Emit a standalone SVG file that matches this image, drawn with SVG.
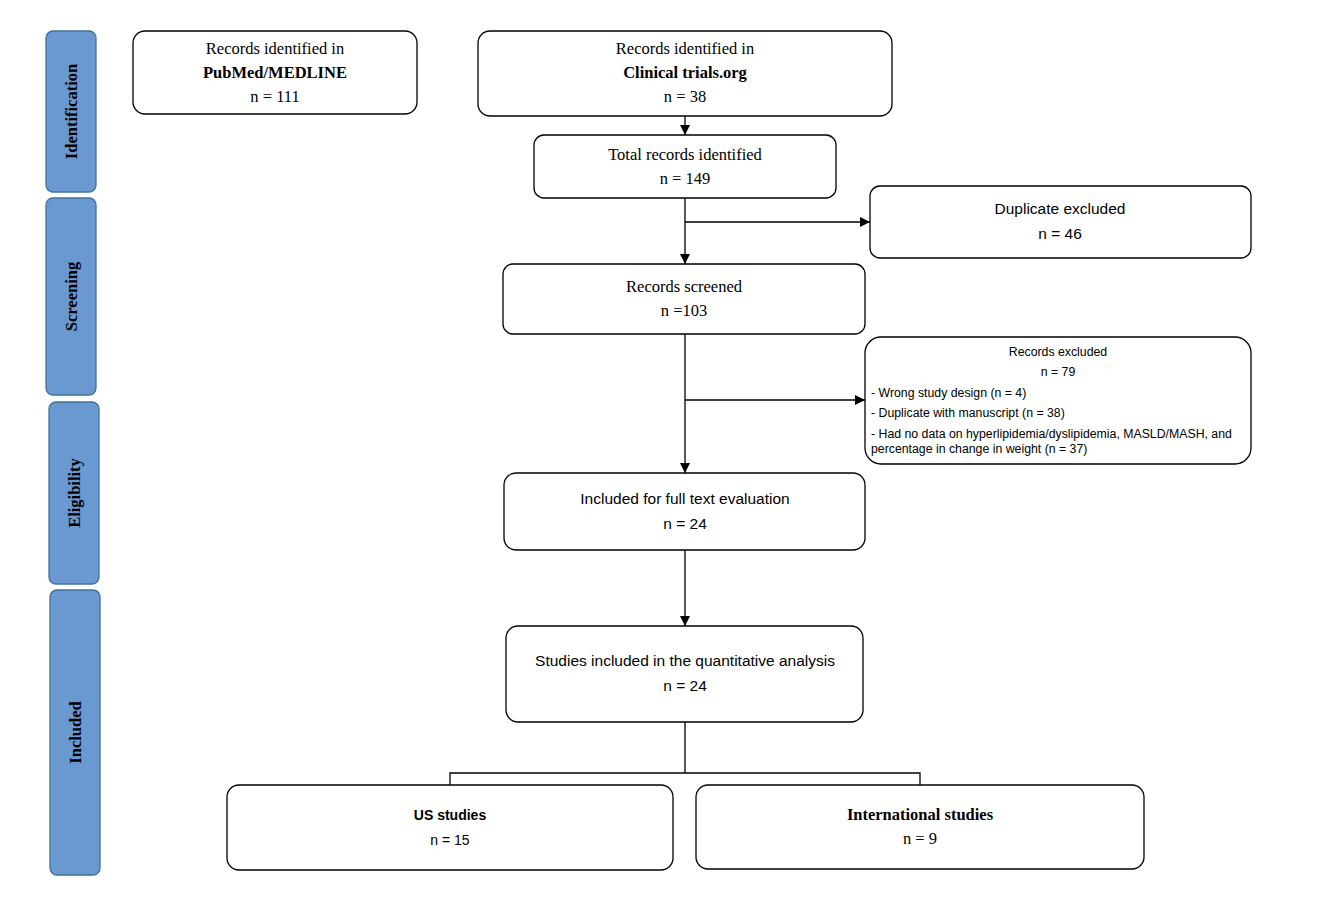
<svg xmlns="http://www.w3.org/2000/svg" width="1318" height="908" viewBox="0 0 1318 908">
<defs>
<marker id="ah" viewBox="0 0 10 10" refX="10" refY="5" markerWidth="10" markerHeight="10" markerUnits="userSpaceOnUse" orient="auto">
<path d="M0,0 L10,5 L0,10 z" fill="#000"/>
</marker>
<style>
.box{fill:#fff;stroke:#000;stroke-width:1.3}
.side{fill:#6A98D0;stroke:#41719C;stroke-width:1.3}
.serif{font-family:"Liberation Serif","Times New Roman",serif;font-size:16.5px;fill:#000;text-anchor:middle}
.sans{font-family:"Liberation Sans",Arial,sans-serif;font-size:15.5px;fill:#000;text-anchor:middle}
.sans14{font-family:"Liberation Sans",Arial,sans-serif;font-size:14px;fill:#000;text-anchor:middle}
.small{font-family:"Liberation Sans",Arial,sans-serif;font-size:12.3px;fill:#000}
.sidet{font-family:"Liberation Serif","Times New Roman",serif;font-size:16.5px;font-weight:bold;fill:#000;text-anchor:middle}
.b{font-weight:bold}
.ln{fill:none;stroke:#000;stroke-width:1.3}
</style>
</defs>
<rect width="1318" height="908" fill="#fff"/>

<g id="phase-identification"><rect class="side" x="46" y="31" width="50" height="161" rx="7"/><text class="sidet" transform="translate(77,111.5) rotate(-90)">Identification</text></g>
<g id="phase-screening"><rect class="side" x="46" y="198" width="50" height="197" rx="7"/><text class="sidet" transform="translate(77,296.5) rotate(-90)">Screening</text></g>
<g id="phase-eligibility"><rect class="side" x="49" y="402" width="50" height="182" rx="7"/><text class="sidet" transform="translate(80,493) rotate(-90)">Eligibility</text></g>
<g id="phase-included"><rect class="side" x="50" y="590" width="50" height="285" rx="7"/><text class="sidet" transform="translate(81,732.5) rotate(-90)">Included</text></g>

<g id="connectors">
<line class="ln" x1="685" y1="116" x2="685" y2="135" marker-end="url(#ah)"/>
<line class="ln" x1="685" y1="198" x2="685" y2="264" marker-end="url(#ah)"/>
<line class="ln" x1="685" y1="222" x2="870" y2="222" marker-end="url(#ah)"/>
<line class="ln" x1="685" y1="334" x2="685" y2="473" marker-end="url(#ah)"/>
<line class="ln" x1="685" y1="400" x2="865" y2="400" marker-end="url(#ah)"/>
<line class="ln" x1="685" y1="550" x2="685" y2="626" marker-end="url(#ah)"/>
<polyline class="ln" points="685,722 685,773"/>
<polyline class="ln" points="450,785 450,773 920,773 920,785"/>
</g>

<g id="pubmed"><rect class="box" x="133" y="31" width="284" height="83" rx="12"/>
<text class="serif" x="275" y="54">Records identified in</text>
<text class="serif b" x="275" y="78">PubMed/MEDLINE</text>
<text class="serif" x="275" y="102">n = 111</text></g>

<g id="clinicaltrials"><rect class="box" x="478" y="31" width="414" height="85" rx="12"/>
<text class="serif" x="685" y="54">Records identified in</text>
<text class="serif b" x="685" y="78">Clinical trials.org</text>
<text class="serif" x="685" y="102">n = 38</text></g>

<g id="total"><rect class="box" x="534" y="135" width="302" height="63" rx="10"/>
<text class="serif" x="685" y="160">Total records identified</text>
<text class="serif" x="685" y="184">n = 149</text></g>

<g id="duplicate"><rect class="box" x="870" y="186" width="381" height="72" rx="10"/>
<text class="sans" x="1060" y="214">Duplicate excluded</text>
<text class="sans" x="1060" y="239">n = 46</text></g>

<g id="screened"><rect class="box" x="503" y="264" width="362" height="70" rx="10"/>
<text class="serif" x="684" y="292">Records screened</text>
<text class="serif" x="684" y="316">n =103</text></g>

<g id="excluded"><rect class="box" x="865" y="337" width="386" height="127" rx="16"/>
<text class="small" x="1058" y="356" text-anchor="middle">Records excluded</text>
<text class="small" x="1058" y="376" text-anchor="middle">n = 79</text>
<text class="small" x="871" y="397">- Wrong study design (n = 4)</text>
<text class="small" x="871" y="417">- Duplicate with manuscript (n = 38)</text>
<text class="small" x="871" y="438">- Had no data on hyperlipidemia/dyslipidemia, MASLD/MASH, and</text>
<text class="small" x="871" y="453">percentage in change in weight (n = 37)</text></g>

<g id="fulltext"><rect class="box" x="504" y="473" width="361" height="77" rx="12"/>
<text class="sans" x="685" y="504">Included for full text evaluation</text>
<text class="sans" x="685" y="529">n = 24</text></g>

<g id="quantitative"><rect class="box" x="506" y="626" width="357" height="96" rx="12"/>
<text class="sans" x="685" y="666">Studies included in the quantitative analysis</text>
<text class="sans" x="685" y="691">n = 24</text></g>

<g id="us"><rect class="box" x="227" y="785" width="446" height="85" rx="12"/>
<text class="sans14 b" x="450" y="820">US studies</text>
<text class="sans14" x="450" y="845">n = 15</text></g>

<g id="international"><rect class="box" x="696" y="785" width="448" height="84" rx="12"/>
<text class="serif b" x="920" y="820">International studies</text>
<text class="serif" x="920" y="844">n = 9</text></g>
</svg>
